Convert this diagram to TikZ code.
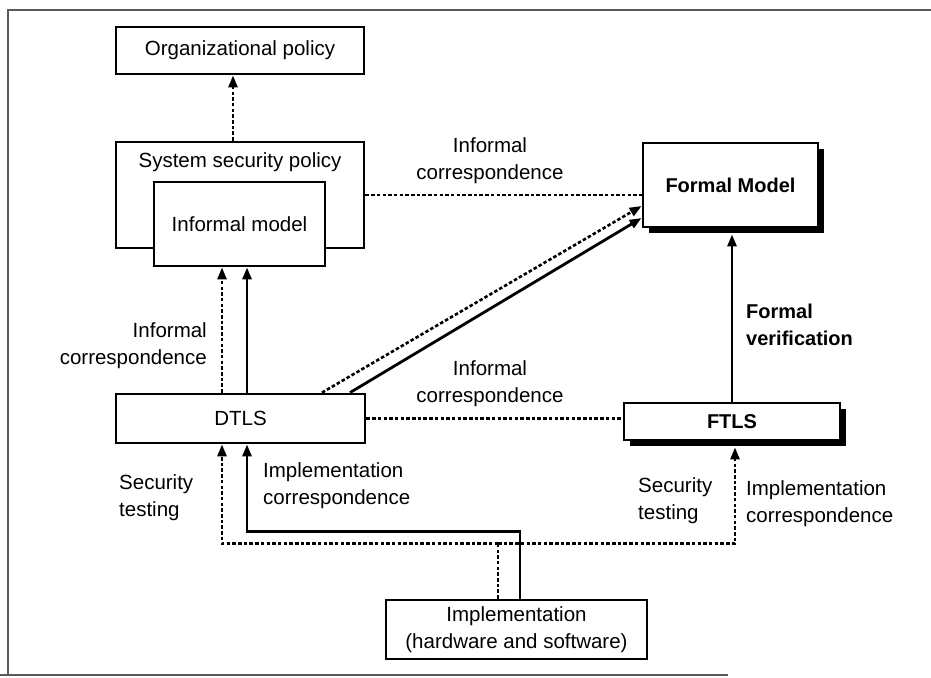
\documentclass[tikz,border=0pt]{standalone}
\usepackage{fontspec}
\setmainfont{Liberation Sans}
\usetikzlibrary{arrows.meta,shadows}
\tikzset{
  txt/.style={font=\fontsize{20.5}{27}\selectfont, inner sep=0pt},
  boxnode/.style={draw, line width=2.8pt, fill=white, rectangle, inner sep=0pt, font=\fontsize{20.5}{27}\selectfont},
  shadowbox/.style={boxnode, drop shadow={shadow xshift=6pt, shadow yshift=-6pt, fill=black, opacity=1}},
  solidln/.style={line width=2.8pt},
  dotln/.style={line width=2.6pt, dash pattern=on 3.5pt off 2.2pt},
  tip/.style={-{Triangle[length=12pt,width=9pt]}},
  framel/.style={line width=2pt, black!65}
}
\begin{document}
\begin{tikzpicture}[x=1pt,y=-1pt]
\useasboundingbox (0,0) rectangle (931,677);
% frame
\draw[framel] (8,675) -- (8,10) -- (931,10);
\draw[framel] (0,675) -- (728,675);

% boxes
\node[boxnode, minimum width=248pt, minimum height=47pt] (org) at (240,50.5) {Organizational policy};
\node[boxnode, minimum width=248pt, minimum height=106pt] (ssp) at (240,195) {};
\node[txt] (ssptext) at (240,162) {System security policy};
\node[boxnode, minimum width=171pt, minimum height=84pt] (im) at (239.5,224) {Informal model};
\node[shadowbox, minimum width=175pt, minimum height=84pt, font=\fontsize{20}{27}\selectfont\bfseries] (fm) at (730.5,185) {Formal Model};
\node[boxnode, minimum width=249pt, minimum height=49pt] (dtls) at (240.5,418.5) {DTLS};
\node[shadowbox, minimum width=216pt, minimum height=37pt, font=\fontsize{20}{27}\selectfont\bfseries] (ftls) at (732,421.5) {FTLS};
\node[boxnode, minimum width=261pt, minimum height=59pt, align=center] (impl) at (516.5,629.5) {Implementation\\(hardware and software)};

% connectors
\draw[dotln, tip] ([xshift=-7pt]ssp.north) -- ([xshift=-7pt]org.south);
\draw[dotln] (ssp.east) -- (ssp.east -| fm.west);
\draw[dotln, tip] ([xshift=-18.5pt]dtls.north) -- ([xshift=-17.5pt]im.south);
\draw[solidln, tip] ([xshift=6.5pt]dtls.north) -- ([xshift=7.5pt]im.south);
\draw[dotln, tip] ([xshift=81.5pt]dtls.north) -- ([yshift=-21pt]fm.west);
\draw[solidln, tip] ([xshift=109.5pt]dtls.north) -- ([yshift=-33pt]fm.west);
\draw[dotln] (dtls.east) -- (dtls.east -| ftls.west);
\draw[solidln, tip] (ftls.north) -- ([yshift=-6pt]ftls.north |- fm.south);
\draw[solidln, tip] ([xshift=3.5pt]impl.north) -- ++(0,-67) -| ([xshift=6.5pt]dtls.south);
\draw[dotln] ([xshift=-18.5pt]impl.north) -- ++(0,-55) coordinate (j);
\draw[dotln, tip] (j) -| ([xshift=-18.5pt]dtls.south);
\draw[dotln, tip] (j) -| ([xshift=3pt,yshift=-6pt]ftls.south);

% labels
\node[txt, align=center] (l1) at (490,161) {Informal\\correspondence};
\node[txt, align=right, anchor=east] (l2) at (207,346) {Informal\\correspondence};
\node[txt, align=center] (l3) at (490,384) {Informal\\correspondence};
\node[txt, align=left, anchor=west, font=\fontsize{20}{27}\selectfont\bfseries] (l4) at (746,325) {Formal\\verification};
\node[txt, align=left, anchor=west] (l5) at (119,498) {Security\\testing};
\node[txt, align=left, anchor=west] (l6) at (263,486) {Implementation\\correspondence};
\node[txt, align=left, anchor=west] (l7) at (638,501) {Security\\testing};
\node[txt, align=left, anchor=west] (l8) at (746,504) {Implementation\\correspondence};
\end{tikzpicture}
\end{document}
